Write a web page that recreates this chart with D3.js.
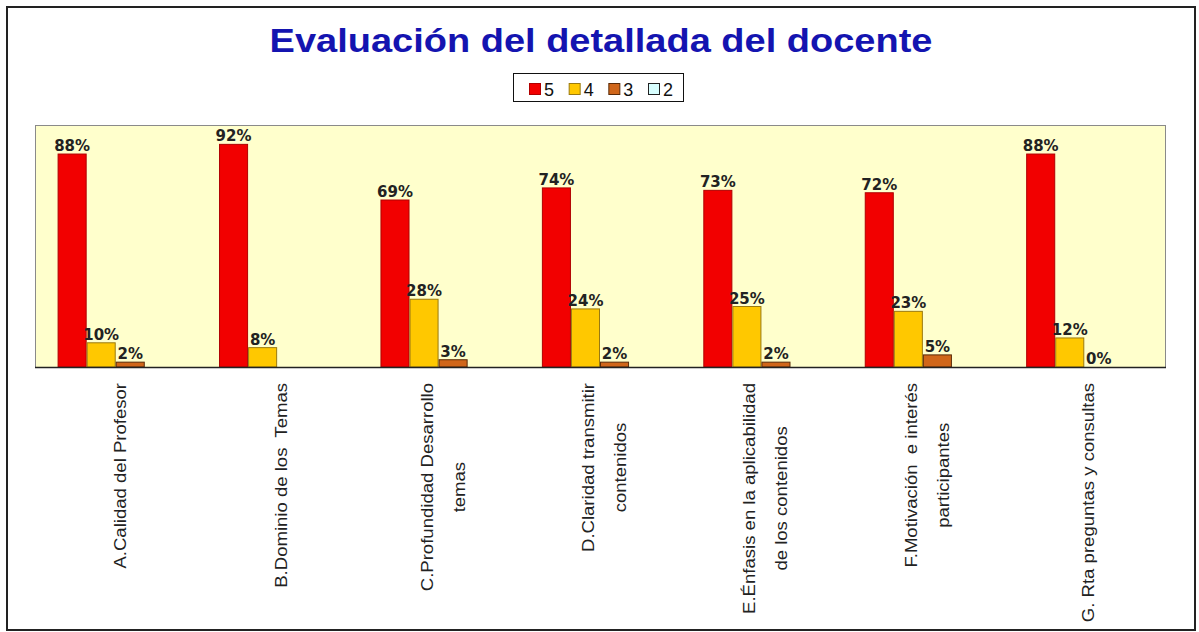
<!DOCTYPE html>
<html>
<head>
<meta charset="utf-8">
<script src="https://cdn.jsdelivr.net/npm/d3@7"></script>
<style>
  html, body { margin: 0; padding: 0; background: #fff; }
  svg { display: block; }
</style>
</head>
<body>
<div id="chart"></div>
<script>
// chart data
var categories = [
  ['A.Calidad del Profesor'],
  ['B.Dominio de los  Temas'],
  ['C.Profundidad Desarrollo', 'temas'],
  ['D.Claridad transmitir', 'contenidos'],
  ['E.Énfasis en la aplicabilidad', 'de los contenidos'],
  ['F.Motivación  e interés', 'participantes'],
  ['G. Rta preguntas y consultas']
];
var seriesNames = ['5', '4', '3', '2'];
var values5 = [88, 92, 69, 74, 73, 72, 88];
var values4 = [10, 8, 28, 24, 25, 23, 12];
var values3 = [2, null, 3, 2, 2, 5, 0];
var values2 = [null, null, null, null, null, null, null];
var yTicks = [0, 100];

var colors = {
  '5': { fill: '#f20000', stroke: '#b00000' },
  '4': { fill: '#ffc800', stroke: '#9a7a10' },
  '3': { fill: '#d0661a', stroke: '#5a2a08' },
  '2': { fill: '#d8ffff', stroke: '#333333' }
};

var W = 1199, H = 632;
var plot = { left: 35, top: 125, right: 1165, bottom: 367 };

var svg = d3.select('#chart').append('svg')
  .attr('width', W)
  .attr('height', H);

// outer frame
svg.append('rect')
  .attr('x', 7).attr('y', 7)
  .attr('width', 1188).attr('height', 623)
  .attr('fill', '#fff')
  .attr('stroke', '#222')
  .attr('stroke-width', 2);

// title, stretched a bit to match the wide original face
var titleG = svg.append('g').attr('transform', 'translate(601,52)');
var title = titleG.append('text')
  .attr('text-anchor', 'middle')
  .style('font-family', '"Liberation Sans", Arial, sans-serif')
  .style('font-weight', 'bold')
  .style('font-size', '34px')
  .attr('fill', '#1414b0')
  .text('Evaluación del detallada del docente');
var tw = title.node().getComputedTextLength();
title.attr('transform', 'scale(' + (663 / tw) + ',1)');

// legend
var legend = svg.append('g');
legend.append('rect')
  .attr('x', 513.5).attr('y', 73.5)
  .attr('width', 170).attr('height', 28)
  .attr('fill', '#fff')
  .attr('stroke', '#111');
var legendX = d3.scalePoint().domain(seriesNames).range([529, 648]);
seriesNames.forEach(function(s) {
  legend.append('rect')
    .attr('x', legendX(s) + 0.5).attr('y', 83.5)
    .attr('width', 11).attr('height', 11)
    .attr('fill', colors[s].fill)
    .attr('stroke', s === '2' ? '#222' : colors[s].stroke);
  legend.append('text')
    .attr('x', legendX(s) + 15).attr('y', 96)
    .style('font-family', '"Liberation Sans", Arial, sans-serif')
    .style('font-size', '18px')
    .attr('fill', '#111')
    .text(s);
});

// scales
var catKeys = categories.map(function(c, i) { return i; });
var x0 = d3.scaleBand()
  .domain(catKeys)
  .range([plot.left, plot.right])
  .paddingInner(0.28)
  .paddingOuter(0.14);
var x1 = d3.scaleBand()
  .domain(seriesNames)
  .range([0, x0.bandwidth()]);
var y = d3.scaleLinear()
  .domain([yTicks[0], yTicks[1]])
  .range([plot.bottom, plot.top]);

// plot area
svg.append('rect')
  .attr('x', plot.left + 0.5).attr('y', plot.top + 0.5)
  .attr('width', plot.right - plot.left).attr('height', plot.bottom - plot.top)
  .attr('fill', '#ffffcc')
  .attr('stroke', '#8a8a8a');

var table = seriesNames.map(function(s, k) {
  var vals = [values5, values4, values3, values2][k];
  return catKeys.map(function(i) { return { cat: i, series: s, value: vals[i] }; });
});
var bars = d3.merge(table).filter(function(d) { return d.value !== null; });

svg.append('g').selectAll('rect')
  .data(bars)
  .enter()
  .append('rect')
  .attr('x', function(d) { return x0(d.cat) + x1(d.series) + 0.5; })
  .attr('y', function(d) { return y(d.value); })
  .attr('width', x1.bandwidth() - 1)
  .attr('height', function(d) { return y(0) - y(d.value); })
  .attr('fill', function(d) { return colors[d.series].fill; })
  .attr('stroke', function(d) { return colors[d.series].stroke; })
  .attr('stroke-width', 1);

// value labels
svg.append('g').selectAll('text')
  .data(bars)
  .enter()
  .append('text')
  .attr('x', function(d) { return x0(d.cat) + x1(d.series) + x1.bandwidth() / 2; })
  .attr('y', function(d) { return y(d.value) - 3; })
  .attr('text-anchor', 'middle')
  .style('font-family', '"DejaVu Sans", Verdana, sans-serif')
  .style('font-weight', 'bold')
  .style('font-size', '15px')
  .attr('fill', '#222')
  .text(function(d) { return d.value + '%'; });

// x axis line
svg.append('line')
  .attr('x1', plot.left).attr('x2', plot.right + 1)
  .attr('y1', plot.bottom + 0.5).attr('y2', plot.bottom + 0.5)
  .attr('stroke', '#222')
  .attr('stroke-width', 1.5);

// category labels (rotated)
var lineGap = 32;
var catLabels = svg.append('g').selectAll('g')
  .data(categories)
  .enter()
  .append('g')
  .attr('transform', function(d, i) {
    var cx = x0(i) + x0.bandwidth() / 2 + 4;
    return 'translate(' + cx + ',383) rotate(-90) scale(1.16,1)';
  });

catLabels.each(function(lines) {
  var g = d3.select(this);
  var texts = lines.map(function(line, j) {
    return g.append('text')
      .attr('y', 6 + (j - (lines.length - 1) / 2) * lineGap)
      .attr('text-anchor', 'middle')
      .style('font-family', '"Liberation Sans", Arial, sans-serif')
      .style('font-size', '16px')
      .style('white-space', 'pre')
      .attr('fill', '#222')
      .text(line);
  });
  var maxLen = d3.max(texts, function(t) { return t.node().getComputedTextLength(); });
  texts.forEach(function(t) { t.attr('x', -maxLen / 2); });
});
</script>
</body>
</html>
